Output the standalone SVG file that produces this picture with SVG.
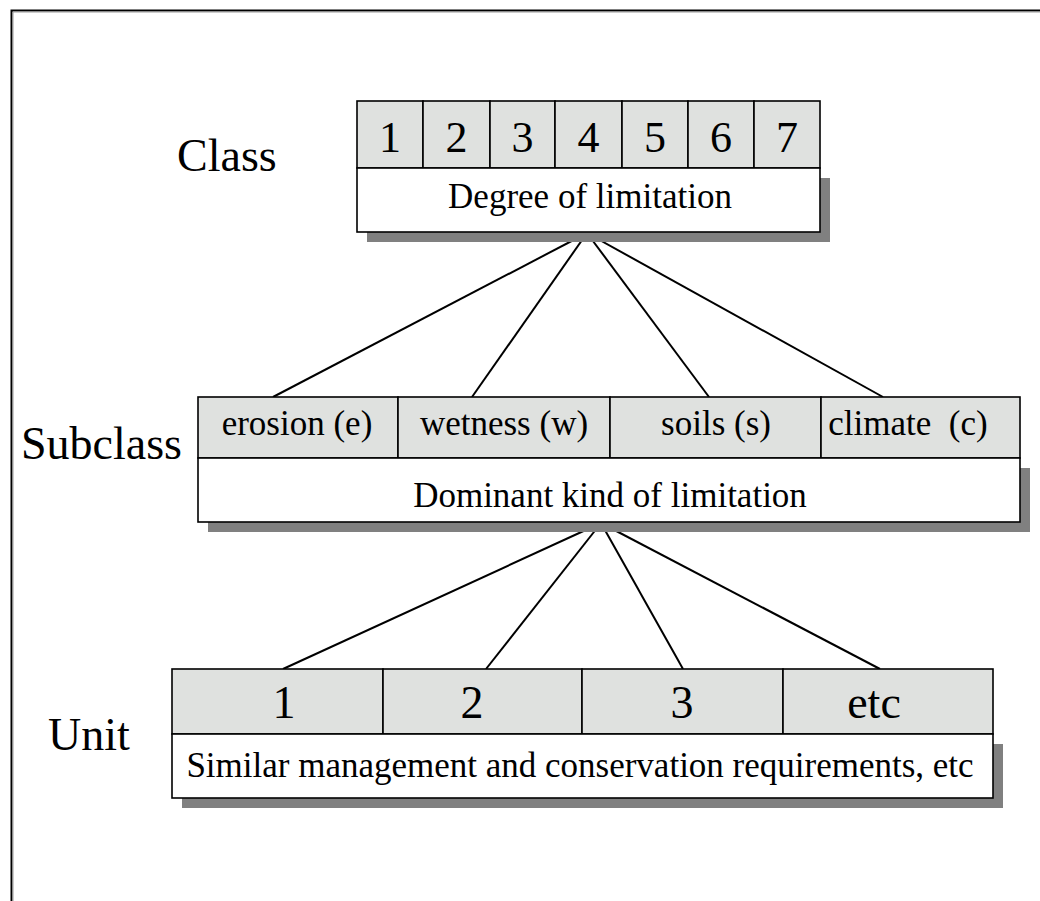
<svg xmlns="http://www.w3.org/2000/svg" width="1040" height="901" viewBox="0 0 1040 901" font-family="'Liberation Serif', 'DejaVu Serif', serif">
<style>
.lbl{font-size:46px}
.cell{fill:#dfe1df;stroke:#000;stroke-width:1.6}
.box{fill:#fff;stroke:#000;stroke-width:1.6}
.sh{fill:#808080}
.d{font-size:44px;text-anchor:middle}
.t{font-size:35px;text-anchor:middle}
.u{font-size:46px;text-anchor:middle}
.conn line{stroke:#000;stroke-width:2}
</style>
<rect width="1040" height="901" fill="#fff"/>
<path d="M11.5,901 V10.5 H1040" fill="none" stroke="#000" stroke-width="2"/>
<path d="M13,901 V12 H1040" fill="none" stroke="#999" stroke-width="1"/>

<g id="connectors" class="conn">
<line x1="587" y1="233" x2="273" y2="397"/>
<line x1="587" y1="233" x2="472" y2="397"/>
<line x1="587" y1="233" x2="709" y2="397"/>
<line x1="587" y1="233" x2="883" y2="397"/>
<line x1="601" y1="523" x2="283" y2="669"/>
<line x1="601" y1="523" x2="486" y2="669"/>
<line x1="601" y1="523" x2="683" y2="669"/>
<line x1="601" y1="523" x2="880" y2="669"/>
</g>

<g id="class">
<text class="lbl" x="177" y="171">Class</text>
<rect class="sh" x="367" y="178" width="463" height="64"/>
<rect class="cell" x="357" y="101" width="66" height="67"/>
<rect class="cell" x="423" y="101" width="67" height="67"/>
<rect class="cell" x="490" y="101" width="65" height="67"/>
<rect class="cell" x="555" y="101" width="67" height="67"/>
<rect class="cell" x="622" y="101" width="66" height="67"/>
<rect class="cell" x="688" y="101" width="66" height="67"/>
<rect class="cell" x="754" y="101" width="66" height="67"/>
<rect class="box" x="357" y="168" width="463" height="64"/>
<text class="d" x="390" y="152">1</text>
<text class="d" x="456.5" y="152">2</text>
<text class="d" x="522.5" y="152">3</text>
<text class="d" x="588.5" y="152">4</text>
<text class="d" x="655" y="152">5</text>
<text class="d" x="721" y="152">6</text>
<text class="d" x="787" y="152">7</text>
<text class="t" x="590" y="208">Degree of limitation</text>
</g>

<g id="subclass">
<text class="lbl" x="21" y="459">Subclass</text>
<rect class="sh" x="208" y="468" width="822" height="64"/>
<rect class="cell" x="198" y="397" width="200" height="61"/>
<rect class="cell" x="398" y="397" width="212" height="61"/>
<rect class="cell" x="610" y="397" width="211" height="61"/>
<rect class="cell" x="821" y="397" width="199" height="61"/>
<rect class="box" x="198" y="458" width="822" height="64"/>
<text class="t" x="297" y="435">erosion (e)</text>
<text class="t" x="504" y="435">wetness (w)</text>
<text class="t" x="716" y="435">soils (s)</text>
<text class="t" x="908" y="435" xml:space="preserve">climate  (c)</text>
<text class="t" x="610" y="507">Dominant kind of limitation</text>
</g>

<g id="unit">
<text class="lbl" x="48" y="750">Unit</text>
<rect class="sh" x="182" y="744" width="821" height="64"/>
<rect class="cell" x="172" y="669" width="211" height="65"/>
<rect class="cell" x="383" y="669" width="199" height="65"/>
<rect class="cell" x="582" y="669" width="201" height="65"/>
<rect class="cell" x="783" y="669" width="210" height="65"/>
<rect class="box" x="172" y="734" width="821" height="64"/>
<text class="u" x="284" y="718">1</text>
<text class="u" x="472" y="718">2</text>
<text class="u" x="682" y="718">3</text>
<text class="u" x="874" y="718">etc</text>
<text class="t" x="580" y="777">Similar management and conservation requirements, etc</text>
</g>
</svg>
